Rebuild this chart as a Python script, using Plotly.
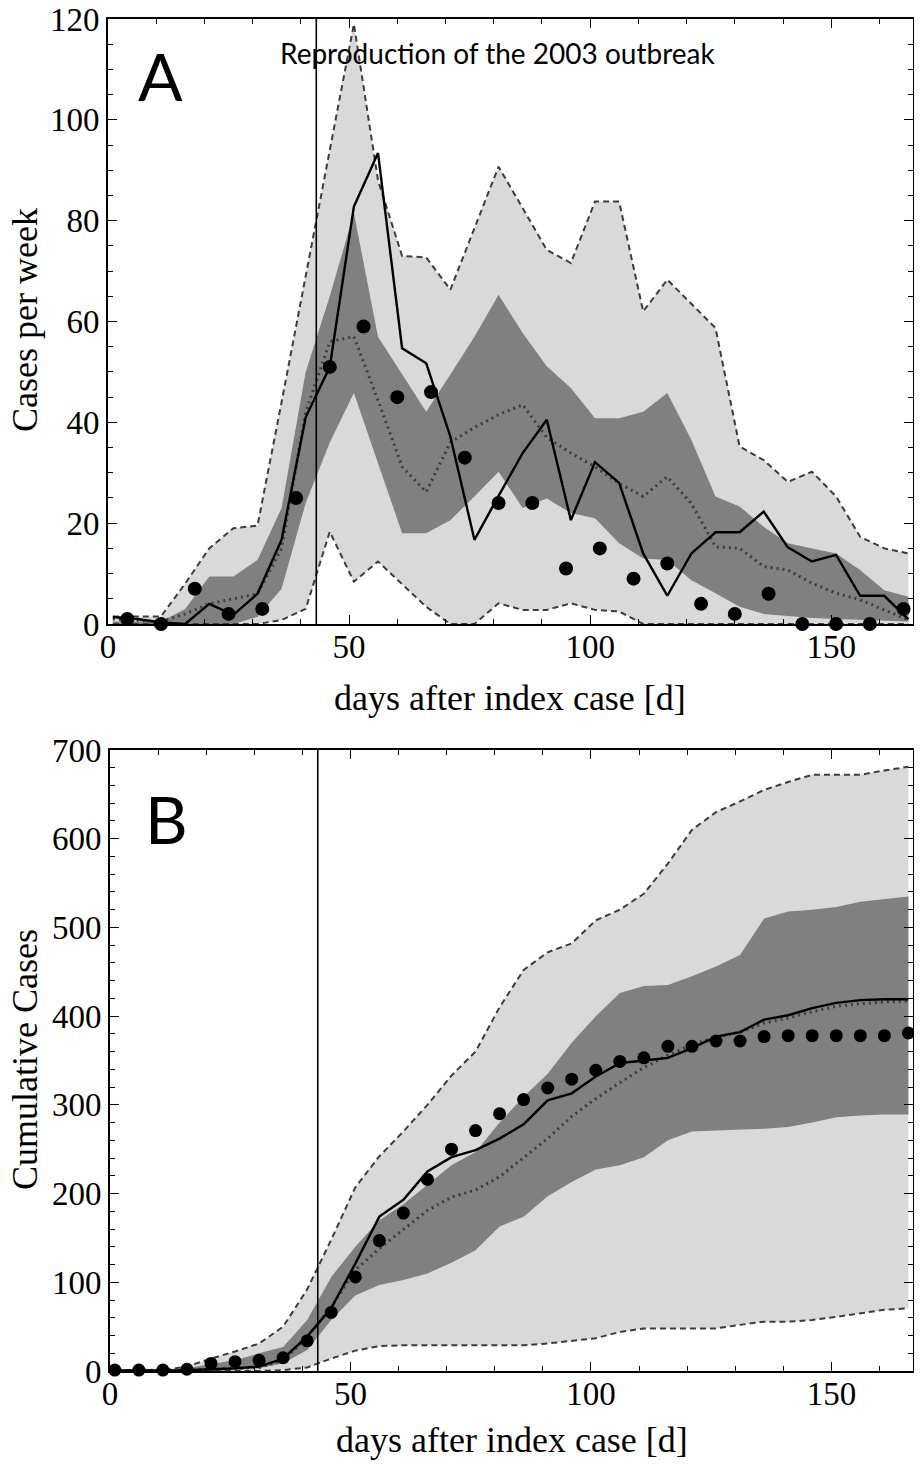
import plotly.graph_objects as go

# ---------------- data ----------------
days = [1, 6, 11, 16, 21, 26, 31, 36, 41, 46, 51, 56, 61, 66, 71, 76, 81, 86, 91, 96,
        101, 106, 111, 116, 121, 126, 131, 136, 141, 146, 151, 156, 161, 166]

# Panel A: cases per week
a_light_up = [1.5, 1.5, 1.5, 8, 15, 19, 19.5, 44, 69, 94, 119, 88, 73, 72.7, 66.3, 78.5, 90.7, 82.5,
              74.2, 71.6, 83.8, 83.8, 62, 68.3, 63.6, 58.7, 35.2, 32.5, 28.2, 30.2, 25.3, 17.3, 15, 14]
a_light_lo = [0, 0, 0, 0, 0, 0, 0, 0.8, 3, 18.3, 8.4, 12.4, 8, 3.4, 0, 0, 4.1, 2.8, 2.8, 4.1,
              2.8, 2.5, 0, 0, 0, 0, 0, 0, 0, 0, 0, 0, 0, 0]
a_dark_up = [0.5, 0.5, 0.5, 3, 9.4, 9.4, 12.7, 23, 50, 65, 81.5, 57, 49.5, 42.1, 49.5, 57, 65.3, 57.7,
             51.1, 46.8, 40.8, 40.8, 42.1, 45.8, 36.5, 25.3, 23.3, 19.3, 16, 15, 14, 10.7, 6.7, 5.4]
a_dark_lo = [0, 0, 0, 0, 0, 0, 1.4, 7, 24, 36, 45.8, 32, 18, 18, 20.6, 25.3, 30.2, 23, 24.9, 22,
             21, 16, 13, 12.7, 8.7, 6.1, 3.4, 2, 1.6, 1.2, 1, 0.8, 0.6, 0.5]
a_median = [1, 0.8, 0.5, 2, 4, 5, 6, 15, 42, 56, 57, 44.4, 31.2, 26.2, 36, 39, 41.5, 43.5, 37, 33.9,
            31.2, 27.9, 25.3, 29.2, 23.9, 15.3, 15, 11.4, 10.7, 8.1, 6.1, 4.8, 2.8, 0.8]
a_model = [1.4, 1, 0.3, 0, 4, 1.8, 6, 16.7, 41, 51, 82.8, 93.4, 54.7, 51.7, 37.2, 16.7, 25.4, 33.9,
           40.5, 20.6, 32.1, 28, 14, 5.6, 14, 18.2, 18.2, 22.3, 15.2, 12.4, 13.7, 5.6, 5.6, 0.9]
a_obs_days = [4, 11, 18, 25, 32, 39, 46, 53, 60, 67, 74, 81, 88, 95, 102, 109, 116, 123,
              130, 137, 144, 151, 158, 165]
a_obs = [1, 0, 7, 2, 3, 25, 51, 59, 45, 46, 33, 24, 24, 11, 15, 9, 12, 4, 2, 6, 0, 0, 0, 3]

# Panel B: cumulative cases
b_light_up = [1, 1, 1, 5, 14, 22, 31, 50, 92, 148, 207, 242, 270, 300, 333, 360, 410, 452, 472, 482,
              508, 520, 538, 572, 610, 630, 642, 655, 664, 672, 672, 672, 677, 681]
b_light_lo = [0, 0, 0, 0, 0, 0, 0, 1, 4, 14, 23, 28, 29, 29, 29, 29, 29, 29, 31, 34,
              37, 44, 48, 48, 48, 48, 52, 55.6, 55.6, 57.5, 61, 65, 69, 70.7]
b_dark_up = [0.5, 0.5, 1, 3, 8, 12, 20, 27, 57.5, 106, 140, 170, 188, 210, 232, 247, 280, 309, 335, 370,
             400, 426, 434, 435, 445, 456, 469, 510, 518, 520, 523, 529, 532, 535]
b_dark_lo = [0, 0, 0, 0, 0, 1, 3, 8.7, 23.7, 57.5, 85, 97, 102.6, 110, 122, 136, 163, 174, 197, 213,
             227, 232, 241, 260, 270, 271, 272, 273, 275, 280, 286, 288, 289, 289]
b_median = [0.5, 0.5, 0.5, 1, 2, 3, 4, 12, 38, 72, 114, 138, 159, 181, 196, 204, 219, 240, 262, 287,
            307, 325, 342, 356, 368, 376, 382, 392, 398, 405, 411, 414, 416, 417]
b_model = [0.5, 0.5, 0.5, 1, 2, 3, 5, 14, 39, 71, 121, 174, 193, 225, 241, 249, 262, 278, 305, 313,
           332, 347, 350, 353, 364, 377, 382, 396, 401, 409, 415, 418, 419, 419]
b_obs = [1, 1, 1, 2, 8.5, 10.5, 12, 15, 34, 66, 106, 147, 178, 216, 250, 271, 290, 306, 319, 329,
         339, 349, 353, 366, 366, 372, 372, 377, 378, 378, 378, 378, 378, 381]

intervention_day = 43.2
x_ticks = [0, 50, 100, 150]
a_y_ticks = [0, 20, 40, 60, 80, 100, 120]
b_y_ticks = [0, 100, 200, 300, 400, 500, 600, 700]

# ---------------- styles ----------------
OFF = 8                                  # default body margin of the html page
W, H = 922 - 2 * OFF, 1470 - 2 * OFF     # keep the page free of scrollbars
LIGHT = "rgb(217,217,217)"
DARK = "rgb(128,128,128)"
EDGE = "rgb(60,60,60)"
SERIF = "Liberation Serif, Times New Roman, serif"
SANS = "Lato, Open Sans, sans-serif"

fig = go.Figure()


def add_panel(xa, ya, light_lo, light_up, dark_lo, dark_up, median, model, obs_x, obs_y, msize):
    common = dict(xaxis=xa, yaxis=ya, showlegend=False, hoverinfo="skip")
    fig.add_trace(go.Scatter(x=days, y=light_lo, mode="lines", line=dict(width=0, color=LIGHT), **common))
    fig.add_trace(go.Scatter(x=days, y=light_up, mode="lines", line=dict(width=0, color=LIGHT),
                             fill="tonexty", fillcolor=LIGHT, **common))
    fig.add_trace(go.Scatter(x=days, y=dark_lo, mode="lines", line=dict(width=0, color=DARK), **common))
    fig.add_trace(go.Scatter(x=days, y=dark_up, mode="lines", line=dict(width=0, color=DARK),
                             fill="tonexty", fillcolor=DARK, **common))
    for edge in (light_lo, light_up):
        fig.add_trace(go.Scatter(x=days, y=edge, mode="lines",
                                 line=dict(width=2, color=EDGE, dash="6px,4px"), **common))
    fig.add_trace(go.Scatter(x=days, y=median, mode="lines",
                             line=dict(width=3, color="rgb(60,60,60)", dash="2px,4px"), **common))
    fig.add_trace(go.Scatter(x=days, y=model, mode="lines",
                             line=dict(width=2.4, color="black"), **common))
    fig.add_trace(go.Scatter(x=obs_x, y=obs_y, mode="markers",
                             marker=dict(size=msize, color="black"), cliponaxis=False, **common))


add_panel("x", "y", a_light_lo, a_light_up, a_dark_lo, a_dark_up, a_median, a_model,
          a_obs_days, a_obs, 14)
add_panel("x2", "y2", b_light_lo, b_light_up, b_dark_lo, b_dark_up, b_median, b_model,
          days, b_obs, 13)


def px_x(p):
    return (p - OFF) / W


def px_y(p):
    return 1 - (p - OFF) / H


axis_common = dict(
    showline=True, linecolor="black", linewidth=1.6, mirror="ticks",
    ticks="inside", ticklen=9, tickwidth=1.2, tickcolor="black",
    showgrid=False, zeroline=False, automargin=False, ticklabeloverflow="allow",
    tickfont=dict(family=SERIF, size=33, color="black"),
)


def minor(step):
    return dict(ticks="inside", ticklen=5, dtick=step, tick0=0, tickcolor="black", tickwidth=1.2)


RIGHT = 913.2
fig.update_layout(
    width=W, height=H,
    margin=dict(l=0, r=0, t=0, b=0),
    paper_bgcolor="white", plot_bgcolor="white",
    xaxis=dict(domain=[px_x(108), px_x(RIGHT)], range=[0, 167], tickvals=x_ticks, minor=minor(10),
               anchor="y", ticklabelstandoff=-7, **axis_common),
    yaxis=dict(domain=[px_y(624), px_y(19)], range=[0, 120], tickvals=a_y_ticks, minor=minor(5),
               anchor="x", ticklabelstandoff=0, **axis_common),
    xaxis2=dict(domain=[px_x(110), px_x(RIGHT)], range=[0, 167], tickvals=x_ticks, minor=minor(10),
                anchor="y2", ticklabelstandoff=-7, **axis_common),
    yaxis2=dict(domain=[px_y(1371), px_y(750)], range=[0, 700], tickvals=b_y_ticks, minor=minor(20),
                anchor="x2", ticklabelstandoff=0, **axis_common),
)

# vertical marker line (start of reproduction window)
for xr, yr in (("x", "y domain"), ("x2", "y2 domain")):
    fig.add_shape(type="line", xref=xr, yref=yr, x0=intervention_day, x1=intervention_day,
                  y0=0, y1=1, line=dict(color="black", width=1.6), layer="above")

annots = [
    dict(text="A", x=px_x(160), y=px_y(76), font=dict(family=SANS, size=66, color="black")),
    dict(text="B", x=px_x(166), y=px_y(818), font=dict(family=SANS, size=66, color="black")),
    dict(text="Reproduction of the 2003 outbreak", x=px_x(497), y=px_y(53),
         font=dict(family=SANS, size=28, color="black")),
    dict(text="Cases per week", x=px_x(25), y=px_y(320), textangle=-90,
         font=dict(family=SERIF, size=36, color="black")),
    dict(text="Cumulative Cases", x=px_x(25), y=px_y(1060), textangle=-90,
         font=dict(family=SERIF, size=36, color="black")),
    dict(text="days after index case [d]", x=px_x(510), y=px_y(698),
         font=dict(family=SERIF, size=36, color="black")),
    dict(text="days after index case [d]", x=px_x(512), y=px_y(1440),
         font=dict(family=SERIF, size=36, color="black")),
]
for a in annots:
    fig.add_annotation(xref="paper", yref="paper", showarrow=False,
                       xanchor="center", yanchor="middle", **a)

fig.write_html("out.html")
